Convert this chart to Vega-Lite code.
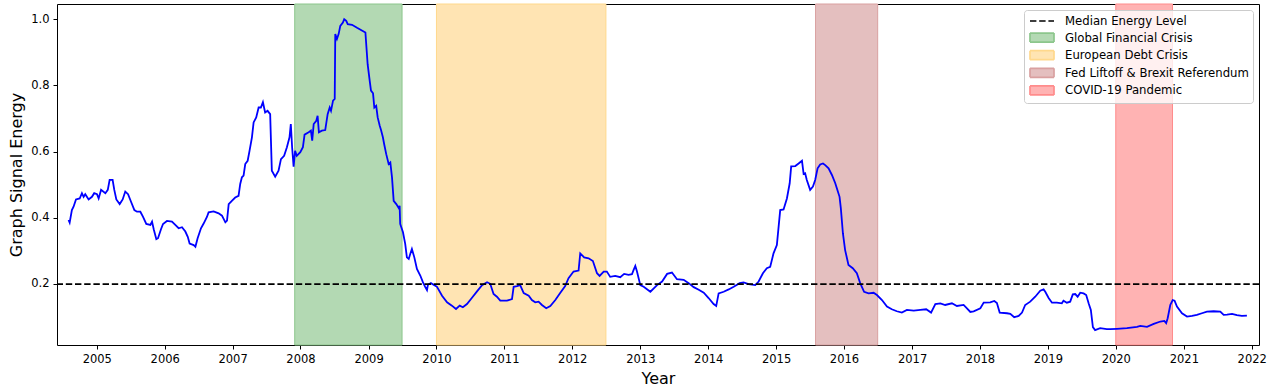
{
  "$schema": "https://vega.github.io/schema/vega-lite/v6.json",
  "width": 1202,
  "height": 341,
  "autosize": {"type": "none"},
  "padding": {"left": 57, "top": 4, "right": 16, "bottom": 42},
  "background": "white",
  "config": {
    "font": "DejaVu Sans",
    "view": {"stroke": "black", "strokeWidth": 1},
    "axis": {
      "labelFont": "DejaVu Sans",
      "labelFontSize": 11.5,
      "labelColor": "black",
      "tickColor": "black",
      "tickSize": 4,
      "tickWidth": 1,
      "domain": false,
      "grid": false,
      "labelPadding": 4,
      "titleFont": "DejaVu Sans",
      "titleFontSize": 16,
      "titleFontWeight": "normal",
      "titleColor": "black"
    },
    "legend": {
      "labelFont": "DejaVu Sans",
      "labelFontSize": 11.7,
      "labelColor": "black",
      "labelLimit": 400
    }
  },
  "datasets": {
    "events": [
      {"event": "Global Financial Crisis", "start": "2007-12-01", "end": "2009-06-30"},
      {"event": "European Debt Crisis", "start": "2010-01-01", "end": "2012-06-30"},
      {"event": "Fed Liftoff & Brexit Referendum", "start": "2015-08-01", "end": "2016-06-30"},
      {"event": "COVID-19 Pandemic", "start": "2020-01-01", "end": "2020-11-01"}
    ],
    "median": [{"label": "Median Energy Level", "value": 0.199}],
    "energy": [
      {"date": "2004-08-02", "energy": 0.393},
      {"date": "2004-08-08", "energy": 0.385},
      {"date": "2004-08-20", "energy": 0.423},
      {"date": "2004-08-29", "energy": 0.433},
      {"date": "2004-09-11", "energy": 0.455},
      {"date": "2004-10-01", "energy": 0.458},
      {"date": "2004-10-13", "energy": 0.474},
      {"date": "2004-10-22", "energy": 0.463},
      {"date": "2004-10-31", "energy": 0.471},
      {"date": "2004-11-18", "energy": 0.455},
      {"date": "2004-12-06", "energy": 0.463},
      {"date": "2004-12-18", "energy": 0.474},
      {"date": "2005-01-02", "energy": 0.471},
      {"date": "2005-01-11", "energy": 0.458},
      {"date": "2005-01-24", "energy": 0.484},
      {"date": "2005-02-16", "energy": 0.474},
      {"date": "2005-03-01", "energy": 0.484},
      {"date": "2005-03-11", "energy": 0.514},
      {"date": "2005-03-27", "energy": 0.514},
      {"date": "2005-04-05", "energy": 0.484},
      {"date": "2005-04-16", "energy": 0.455},
      {"date": "2005-05-04", "energy": 0.441},
      {"date": "2005-05-20", "energy": 0.455},
      {"date": "2005-06-03", "energy": 0.479},
      {"date": "2005-06-18", "energy": 0.471},
      {"date": "2005-07-04", "energy": 0.448},
      {"date": "2005-07-22", "energy": 0.423},
      {"date": "2005-08-05", "energy": 0.418},
      {"date": "2005-08-23", "energy": 0.418},
      {"date": "2005-09-06", "energy": 0.403},
      {"date": "2005-09-24", "energy": 0.381},
      {"date": "2005-10-16", "energy": 0.378},
      {"date": "2005-10-25", "energy": 0.388},
      {"date": "2005-11-03", "energy": 0.365},
      {"date": "2005-11-17", "energy": 0.335},
      {"date": "2005-11-26", "energy": 0.338},
      {"date": "2005-12-12", "energy": 0.365},
      {"date": "2005-12-23", "energy": 0.381},
      {"date": "2006-01-13", "energy": 0.390},
      {"date": "2006-02-09", "energy": 0.388},
      {"date": "2006-02-27", "energy": 0.378},
      {"date": "2006-03-17", "energy": 0.368},
      {"date": "2006-04-04", "energy": 0.371},
      {"date": "2006-04-22", "energy": 0.358},
      {"date": "2006-05-05", "energy": 0.342},
      {"date": "2006-05-15", "energy": 0.322},
      {"date": "2006-06-06", "energy": 0.317},
      {"date": "2006-06-15", "energy": 0.312},
      {"date": "2006-06-27", "energy": 0.338},
      {"date": "2006-07-15", "energy": 0.368},
      {"date": "2006-07-30", "energy": 0.383},
      {"date": "2006-08-16", "energy": 0.402},
      {"date": "2006-08-25", "energy": 0.416},
      {"date": "2006-09-21", "energy": 0.419},
      {"date": "2006-10-18", "energy": 0.413},
      {"date": "2006-11-05", "energy": 0.406},
      {"date": "2006-11-23", "energy": 0.386},
      {"date": "2006-12-02", "energy": 0.391},
      {"date": "2006-12-11", "energy": 0.441},
      {"date": "2006-12-28", "energy": 0.451},
      {"date": "2007-01-15", "energy": 0.461},
      {"date": "2007-02-02", "energy": 0.466},
      {"date": "2007-02-11", "energy": 0.502},
      {"date": "2007-02-20", "energy": 0.522},
      {"date": "2007-03-01", "energy": 0.527},
      {"date": "2007-03-10", "energy": 0.562},
      {"date": "2007-03-23", "energy": 0.572},
      {"date": "2007-04-02", "energy": 0.602},
      {"date": "2007-04-15", "energy": 0.643},
      {"date": "2007-04-24", "energy": 0.688},
      {"date": "2007-05-08", "energy": 0.703},
      {"date": "2007-05-21", "energy": 0.733},
      {"date": "2007-06-02", "energy": 0.733},
      {"date": "2007-06-13", "energy": 0.749},
      {"date": "2007-06-25", "energy": 0.718},
      {"date": "2007-07-08", "energy": 0.723},
      {"date": "2007-07-22", "energy": 0.713},
      {"date": "2007-07-31", "energy": 0.542},
      {"date": "2007-08-18", "energy": 0.524},
      {"date": "2007-09-05", "energy": 0.542},
      {"date": "2007-09-18", "energy": 0.577},
      {"date": "2007-10-05", "energy": 0.587},
      {"date": "2007-10-20", "energy": 0.613},
      {"date": "2007-11-03", "energy": 0.643},
      {"date": "2007-11-10", "energy": 0.683},
      {"date": "2007-11-17", "energy": 0.613},
      {"date": "2007-11-25", "energy": 0.554},
      {"date": "2007-12-03", "energy": 0.602},
      {"date": "2007-12-12", "energy": 0.587},
      {"date": "2007-12-31", "energy": 0.598},
      {"date": "2008-01-14", "energy": 0.613},
      {"date": "2008-01-23", "energy": 0.651},
      {"date": "2008-02-14", "energy": 0.658},
      {"date": "2008-02-26", "energy": 0.663},
      {"date": "2008-03-04", "energy": 0.633},
      {"date": "2008-03-12", "energy": 0.683},
      {"date": "2008-03-26", "energy": 0.693},
      {"date": "2008-04-02", "energy": 0.708},
      {"date": "2008-04-09", "energy": 0.658},
      {"date": "2008-04-25", "energy": 0.663},
      {"date": "2008-05-13", "energy": 0.665},
      {"date": "2008-05-26", "energy": 0.713},
      {"date": "2008-06-06", "energy": 0.733},
      {"date": "2008-06-13", "energy": 0.723},
      {"date": "2008-06-24", "energy": 0.754},
      {"date": "2008-07-03", "energy": 0.759},
      {"date": "2008-07-06", "energy": 0.955},
      {"date": "2008-07-15", "energy": 0.940},
      {"date": "2008-07-24", "energy": 0.955},
      {"date": "2008-08-02", "energy": 0.980},
      {"date": "2008-08-16", "energy": 0.990},
      {"date": "2008-08-23", "energy": 1.000},
      {"date": "2008-09-03", "energy": 0.995},
      {"date": "2008-09-11", "energy": 0.985},
      {"date": "2008-10-04", "energy": 0.983},
      {"date": "2008-10-31", "energy": 0.974},
      {"date": "2008-12-15", "energy": 0.960},
      {"date": "2008-12-27", "energy": 0.864},
      {"date": "2009-01-07", "energy": 0.814},
      {"date": "2009-01-14", "energy": 0.784},
      {"date": "2009-01-25", "energy": 0.776},
      {"date": "2009-02-01", "energy": 0.733},
      {"date": "2009-02-11", "energy": 0.738},
      {"date": "2009-02-19", "energy": 0.703},
      {"date": "2009-03-02", "energy": 0.678},
      {"date": "2009-03-09", "energy": 0.665},
      {"date": "2009-03-19", "energy": 0.643},
      {"date": "2009-03-26", "energy": 0.622},
      {"date": "2009-04-06", "energy": 0.592},
      {"date": "2009-04-19", "energy": 0.562},
      {"date": "2009-04-28", "energy": 0.567},
      {"date": "2009-05-07", "energy": 0.522},
      {"date": "2009-05-16", "energy": 0.451},
      {"date": "2009-05-30", "energy": 0.441},
      {"date": "2009-06-12", "energy": 0.429},
      {"date": "2009-06-17", "energy": 0.436},
      {"date": "2009-06-20", "energy": 0.381},
      {"date": "2009-07-05", "energy": 0.356},
      {"date": "2009-07-17", "energy": 0.321},
      {"date": "2009-07-26", "energy": 0.280},
      {"date": "2009-08-05", "energy": 0.275},
      {"date": "2009-08-13", "energy": 0.290},
      {"date": "2009-08-22", "energy": 0.305},
      {"date": "2009-09-04", "energy": 0.280},
      {"date": "2009-09-18", "energy": 0.245},
      {"date": "2009-10-06", "energy": 0.225},
      {"date": "2009-10-20", "energy": 0.205},
      {"date": "2009-11-02", "energy": 0.190},
      {"date": "2009-11-11", "energy": 0.181},
      {"date": "2009-11-16", "energy": 0.197},
      {"date": "2009-12-02", "energy": 0.202},
      {"date": "2010-01-04", "energy": 0.191},
      {"date": "2010-01-31", "energy": 0.164},
      {"date": "2010-02-27", "energy": 0.144},
      {"date": "2010-03-25", "energy": 0.134},
      {"date": "2010-04-16", "energy": 0.124},
      {"date": "2010-05-06", "energy": 0.134},
      {"date": "2010-05-23", "energy": 0.129},
      {"date": "2010-06-14", "energy": 0.139},
      {"date": "2010-07-11", "energy": 0.158},
      {"date": "2010-08-07", "energy": 0.177},
      {"date": "2010-09-03", "energy": 0.196},
      {"date": "2010-09-30", "energy": 0.205},
      {"date": "2010-10-17", "energy": 0.200},
      {"date": "2010-11-04", "energy": 0.169},
      {"date": "2010-11-22", "energy": 0.161},
      {"date": "2010-12-10", "energy": 0.149},
      {"date": "2011-01-15", "energy": 0.149},
      {"date": "2011-02-11", "energy": 0.154},
      {"date": "2011-02-20", "energy": 0.191},
      {"date": "2011-03-10", "energy": 0.193},
      {"date": "2011-03-27", "energy": 0.196},
      {"date": "2011-04-15", "energy": 0.172},
      {"date": "2011-05-12", "energy": 0.164},
      {"date": "2011-05-29", "energy": 0.151},
      {"date": "2011-06-16", "energy": 0.144},
      {"date": "2011-07-04", "energy": 0.146},
      {"date": "2011-07-22", "energy": 0.136},
      {"date": "2011-08-14", "energy": 0.126},
      {"date": "2011-09-05", "energy": 0.133},
      {"date": "2011-10-02", "energy": 0.151},
      {"date": "2011-10-28", "energy": 0.172},
      {"date": "2011-11-24", "energy": 0.193},
      {"date": "2011-12-12", "energy": 0.217},
      {"date": "2012-01-08", "energy": 0.237},
      {"date": "2012-02-04", "energy": 0.240},
      {"date": "2012-02-13", "energy": 0.292},
      {"date": "2012-03-05", "energy": 0.280},
      {"date": "2012-03-29", "energy": 0.277},
      {"date": "2012-04-21", "energy": 0.269},
      {"date": "2012-05-13", "energy": 0.232},
      {"date": "2012-05-27", "energy": 0.224},
      {"date": "2012-06-18", "energy": 0.237},
      {"date": "2012-07-05", "energy": 0.237},
      {"date": "2012-07-23", "energy": 0.221},
      {"date": "2012-08-19", "energy": 0.224},
      {"date": "2012-09-15", "energy": 0.220},
      {"date": "2012-10-06", "energy": 0.230},
      {"date": "2012-10-30", "energy": 0.227},
      {"date": "2012-11-17", "energy": 0.229},
      {"date": "2012-11-26", "energy": 0.242},
      {"date": "2012-12-05", "energy": 0.254},
      {"date": "2012-12-14", "energy": 0.237},
      {"date": "2013-01-01", "energy": 0.196},
      {"date": "2013-01-19", "energy": 0.191},
      {"date": "2013-02-24", "energy": 0.176},
      {"date": "2013-04-01", "energy": 0.196},
      {"date": "2013-04-28", "energy": 0.207},
      {"date": "2013-05-25", "energy": 0.230},
      {"date": "2013-06-20", "energy": 0.234},
      {"date": "2013-07-17", "energy": 0.214},
      {"date": "2013-08-22", "energy": 0.212},
      {"date": "2013-09-18", "energy": 0.202},
      {"date": "2013-10-15", "energy": 0.190},
      {"date": "2013-11-11", "energy": 0.182},
      {"date": "2013-12-08", "energy": 0.173},
      {"date": "2014-01-03", "energy": 0.157},
      {"date": "2014-01-30", "energy": 0.139},
      {"date": "2014-02-13", "energy": 0.133},
      {"date": "2014-02-26", "energy": 0.171},
      {"date": "2014-03-25", "energy": 0.176},
      {"date": "2014-04-21", "energy": 0.183},
      {"date": "2014-05-18", "energy": 0.191},
      {"date": "2014-06-19", "energy": 0.202},
      {"date": "2014-07-10", "energy": 0.204},
      {"date": "2014-08-06", "energy": 0.199},
      {"date": "2014-09-11", "energy": 0.196},
      {"date": "2014-09-29", "energy": 0.207},
      {"date": "2014-10-22", "energy": 0.232},
      {"date": "2014-11-12", "energy": 0.247},
      {"date": "2014-11-30", "energy": 0.251},
      {"date": "2014-12-18", "energy": 0.292},
      {"date": "2015-01-05", "energy": 0.317},
      {"date": "2015-01-23", "energy": 0.423},
      {"date": "2015-02-10", "energy": 0.425},
      {"date": "2015-02-28", "energy": 0.458},
      {"date": "2015-03-15", "energy": 0.504},
      {"date": "2015-03-23", "energy": 0.555},
      {"date": "2015-04-14", "energy": 0.556},
      {"date": "2015-05-02", "energy": 0.564},
      {"date": "2015-05-20", "energy": 0.572},
      {"date": "2015-05-29", "energy": 0.532},
      {"date": "2015-06-06", "energy": 0.534},
      {"date": "2015-06-15", "energy": 0.514},
      {"date": "2015-07-03", "energy": 0.484},
      {"date": "2015-07-18", "energy": 0.494},
      {"date": "2015-07-30", "energy": 0.514},
      {"date": "2015-08-12", "energy": 0.549},
      {"date": "2015-08-26", "energy": 0.561},
      {"date": "2015-09-10", "energy": 0.564},
      {"date": "2015-09-22", "energy": 0.559},
      {"date": "2015-10-10", "energy": 0.549},
      {"date": "2015-10-28", "energy": 0.529},
      {"date": "2015-11-15", "energy": 0.504},
      {"date": "2015-11-29", "energy": 0.479},
      {"date": "2015-12-08", "energy": 0.463},
      {"date": "2015-12-15", "energy": 0.428},
      {"date": "2015-12-26", "energy": 0.353},
      {"date": "2016-01-07", "energy": 0.302},
      {"date": "2016-01-25", "energy": 0.257},
      {"date": "2016-02-17", "energy": 0.247},
      {"date": "2016-03-10", "energy": 0.232},
      {"date": "2016-03-28", "energy": 0.202},
      {"date": "2016-04-18", "energy": 0.176},
      {"date": "2016-05-12", "energy": 0.171},
      {"date": "2016-06-08", "energy": 0.173},
      {"date": "2016-06-26", "energy": 0.166},
      {"date": "2016-07-23", "energy": 0.151},
      {"date": "2016-08-19", "energy": 0.131},
      {"date": "2016-09-14", "energy": 0.123},
      {"date": "2016-10-11", "energy": 0.117},
      {"date": "2016-11-07", "energy": 0.113},
      {"date": "2016-12-04", "energy": 0.121},
      {"date": "2017-01-10", "energy": 0.119},
      {"date": "2017-02-14", "energy": 0.121},
      {"date": "2017-03-18", "energy": 0.123},
      {"date": "2017-04-13", "energy": 0.113},
      {"date": "2017-05-06", "energy": 0.139},
      {"date": "2017-06-02", "energy": 0.141},
      {"date": "2017-06-28", "energy": 0.136},
      {"date": "2017-08-03", "energy": 0.141},
      {"date": "2017-08-30", "energy": 0.133},
      {"date": "2017-10-05", "energy": 0.136},
      {"date": "2017-10-23", "energy": 0.126},
      {"date": "2017-11-10", "energy": 0.115},
      {"date": "2017-11-28", "energy": 0.117},
      {"date": "2018-01-03", "energy": 0.126},
      {"date": "2018-01-21", "energy": 0.143},
      {"date": "2018-02-25", "energy": 0.144},
      {"date": "2018-03-19", "energy": 0.148},
      {"date": "2018-04-02", "energy": 0.142},
      {"date": "2018-04-17", "energy": 0.113},
      {"date": "2018-05-26", "energy": 0.111},
      {"date": "2018-06-13", "energy": 0.109},
      {"date": "2018-07-04", "energy": 0.099},
      {"date": "2018-07-28", "energy": 0.103},
      {"date": "2018-08-15", "energy": 0.113},
      {"date": "2018-09-01", "energy": 0.136},
      {"date": "2018-09-28", "energy": 0.146},
      {"date": "2018-10-25", "energy": 0.161},
      {"date": "2018-11-21", "energy": 0.179},
      {"date": "2018-12-09", "energy": 0.183},
      {"date": "2018-12-18", "energy": 0.176},
      {"date": "2019-01-05", "energy": 0.157},
      {"date": "2019-01-23", "energy": 0.143},
      {"date": "2019-02-18", "energy": 0.143},
      {"date": "2019-03-17", "energy": 0.141},
      {"date": "2019-03-26", "energy": 0.149},
      {"date": "2019-04-13", "energy": 0.143},
      {"date": "2019-05-01", "energy": 0.146},
      {"date": "2019-05-15", "energy": 0.168},
      {"date": "2019-05-28", "energy": 0.169},
      {"date": "2019-06-10", "energy": 0.161},
      {"date": "2019-06-24", "energy": 0.173},
      {"date": "2019-07-12", "energy": 0.171},
      {"date": "2019-07-26", "energy": 0.166},
      {"date": "2019-08-08", "energy": 0.141},
      {"date": "2019-08-20", "energy": 0.121},
      {"date": "2019-08-31", "energy": 0.069},
      {"date": "2019-09-12", "energy": 0.060},
      {"date": "2019-10-09", "energy": 0.066},
      {"date": "2019-11-14", "energy": 0.063},
      {"date": "2019-12-02", "energy": 0.063},
      {"date": "2020-01-07", "energy": 0.064},
      {"date": "2020-03-01", "energy": 0.066},
      {"date": "2020-04-24", "energy": 0.070},
      {"date": "2020-05-12", "energy": 0.073},
      {"date": "2020-06-17", "energy": 0.070},
      {"date": "2020-07-23", "energy": 0.079},
      {"date": "2020-08-28", "energy": 0.086},
      {"date": "2020-09-18", "energy": 0.088},
      {"date": "2020-09-28", "energy": 0.081},
      {"date": "2020-10-06", "energy": 0.096},
      {"date": "2020-10-20", "energy": 0.136},
      {"date": "2020-11-02", "energy": 0.151},
      {"date": "2020-11-12", "energy": 0.149},
      {"date": "2020-11-25", "energy": 0.131},
      {"date": "2020-12-22", "energy": 0.111},
      {"date": "2021-01-18", "energy": 0.101},
      {"date": "2021-02-14", "energy": 0.103},
      {"date": "2021-03-12", "energy": 0.106},
      {"date": "2021-04-08", "energy": 0.111},
      {"date": "2021-05-05", "energy": 0.116},
      {"date": "2021-06-10", "energy": 0.117},
      {"date": "2021-07-16", "energy": 0.116},
      {"date": "2021-08-03", "energy": 0.106},
      {"date": "2021-08-21", "energy": 0.107},
      {"date": "2021-09-17", "energy": 0.109},
      {"date": "2021-10-13", "energy": 0.105},
      {"date": "2021-11-09", "energy": 0.103},
      {"date": "2021-12-06", "energy": 0.104}
    ]
  },
  "layer": [
    {
      "data": {"name": "events"},
      "mark": {"type": "rect", "strokeWidth": 1},
      "encoding": {
        "x": {
          "field": "start",
          "type": "temporal",
          "title": "Year",
          "scale": {"domain": [{"year": 2004, "month": 6, "date": 1}, {"year": 2022, "month": 2, "date": 9}]},
          "axis": {
            "values": [{"year": 2005}, {"year": 2006}, {"year": 2007}, {"year": 2008}, {"year": 2009}, {"year": 2010}, {"year": 2011}, {"year": 2012}, {"year": 2013}, {"year": 2014}, {"year": 2015}, {"year": 2016}, {"year": 2017}, {"year": 2018}, {"year": 2019}, {"year": 2020}, {"year": 2021}, {"year": 2022}],
            "format": "%Y",
            "titlePadding": 6
          }
        },
        "x2": {"field": "end"},
        "color": {
          "field": "event",
          "type": "nominal",
          "scale": {
            "domain": ["Median Energy Level", "Global Financial Crisis", "European Debt Crisis", "Fed Liftoff & Brexit Referendum", "COVID-19 Pandemic"],
            "range": ["#000000", "#b3d9b3", "#ffe4b3", "#e4bfbf", "#ffb3b3"]
          },
          "legend": {
            "title": null,
            "orient": "top-right",
            "offset": 6,
            "padding": 4,
            "fillColor": "rgba(255,255,255,0.8)",
            "strokeColor": "#cccccc",
            "cornerRadius": 3,
            "symbolSize": 144,
            "symbolOffset": 7,
            "symbolStrokeWidth": 1.7,
            "labelOffset": 16,
            "rowPadding": 1.6
          }
        },
        "stroke": {
          "field": "event",
          "type": "nominal",
          "scale": {
            "domain": ["Median Energy Level", "Global Financial Crisis", "European Debt Crisis", "Fed Liftoff & Brexit Referendum", "COVID-19 Pandemic"],
            "range": ["#000000", "#8cc68c", "#ffd88c", "#d9a0a0", "#ff8c8c"]
          }
        }
      }
    },
    {
      "data": {"values": []},
      "mark": {"type": "point", "filled": true},
      "encoding": {
        "shape": {
          "field": "event",
          "type": "nominal",
          "scale": {
            "domain": ["Median Energy Level", "Global Financial Crisis", "European Debt Crisis", "Fed Liftoff & Brexit Referendum", "COVID-19 Pandemic"],
            "range": ["M-2,0H2", "M-2,-0.75H2V0.75H-2Z", "M-2,-0.75H2V0.75H-2Z", "M-2,-0.75H2V0.75H-2Z", "M-2,-0.75H2V0.75H-2Z"]
          }
        },
        "strokeDash": {
          "field": "event",
          "type": "nominal",
          "scale": {
            "domain": ["Median Energy Level", "Global Financial Crisis", "European Debt Crisis", "Fed Liftoff & Brexit Referendum", "COVID-19 Pandemic"],
            "range": [[6.4, 2.8], [1, 0], [1, 0], [1, 0], [1, 0]]
          }
        }
      }
    },
    {
      "data": {"name": "energy"},
      "mark": {"type": "line", "color": "#0000ff", "strokeWidth": 1.8},
      "encoding": {
        "x": {"field": "date", "type": "temporal", "title": "Year"},
        "y": {
          "field": "energy",
          "type": "quantitative",
          "title": "Graph Signal Energy",
          "scale": {"domain": [0.015, 1.046], "nice": false, "zero": false},
          "axis": {"values": [0.2, 0.4, 0.6, 0.8, 1.0], "format": ".1f", "titlePadding": 6}
        }
      }
    },
    {
      "data": {"name": "median"},
      "mark": {"type": "rule", "color": "black", "strokeWidth": 1.8, "strokeDash": [6.4, 2.8]},
      "encoding": {
        "y": {"field": "value", "type": "quantitative", "title": "Graph Signal Energy"}
      }
    }
  ]
}
